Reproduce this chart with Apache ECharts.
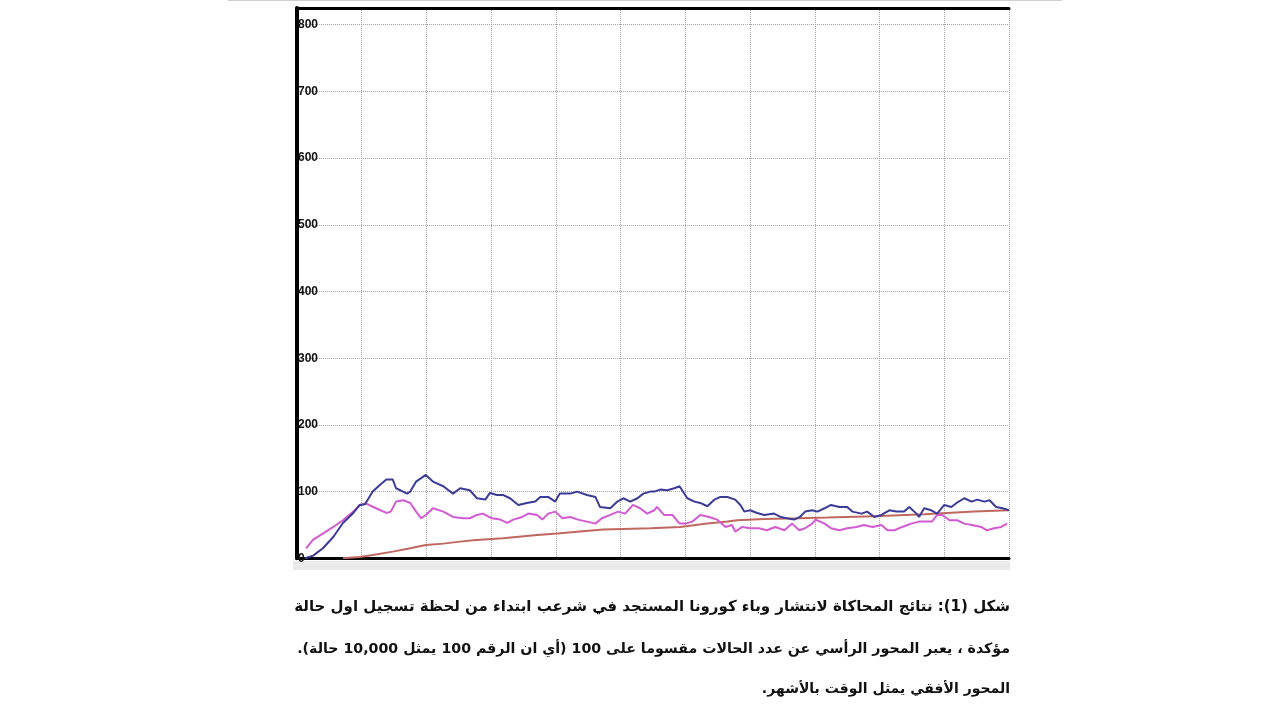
<!DOCTYPE html>
<html>
<head>
<meta charset="utf-8">
<script src="https://cdn.jsdelivr.net/npm/echarts@6/dist/echarts.min.js"></script>
<style>
html,body{margin:0;padding:0;background:#fff;}
#chart{width:1280px;height:719px;}
</style>
</head>
<body>
<div id="chart"></div>
<script>
// Time in months (x) and cases / 100 (y)
const blueMonths = [0.12,0.25,0.40,0.56,0.71,0.87,0.97,1.05,1.17,1.28,1.38,1.48,1.53,1.64,1.70,1.75,1.84,1.99,2.10,2.26,2.41,2.52,2.67,2.78,2.91,2.98,3.09,3.18,3.29,3.42,3.55,3.68,3.76,3.88,3.99,4.06,4.22,4.33,4.48,4.61,4.68,4.84,4.95,5.04,5.15,5.26,5.35,5.46,5.52,5.61,5.72,5.83,5.91,5.95,6.03,6.14,6.23,6.34,6.45,6.54,6.65,6.77,6.85,6.91,7.00,7.11,7.22,7.37,7.47,7.57,7.68,7.77,7.85,7.96,8.04,8.15,8.25,8.38,8.50,8.58,8.72,8.81,8.92,9.03,9.15,9.26,9.38,9.46,9.57,9.61,9.69,9.80,9.89,10.00,10.11,10.19,10.31,10.42,10.51,10.62,10.70,10.80,10.90,11.00];
const blueValues = [0,4,15,32,53,68,80,81,100,110,118,118,105,100,97,100,115,125,115,108,97,105,102,90,88,98,95,95,90,80,83,85,92,92,85,97,97,100,95,92,77,75,85,90,85,90,97,100,100,103,102,105,108,102,90,85,83,78,88,92,92,88,80,70,72,68,65,67,62,60,58,62,70,72,70,75,80,77,77,70,67,70,62,65,72,70,70,77,67,62,75,72,67,80,77,83,90,85,88,85,87,77,75,72];

const magentaMonths = [0.14,0.25,0.40,0.56,0.71,0.87,0.97,1.07,1.22,1.38,1.45,1.53,1.64,1.75,1.84,1.92,1.99,2.10,2.26,2.41,2.57,2.67,2.78,2.87,3.01,3.14,3.25,3.34,3.48,3.57,3.71,3.79,3.88,3.99,4.10,4.22,4.34,4.48,4.61,4.71,4.84,4.96,5.07,5.19,5.30,5.41,5.52,5.56,5.67,5.80,5.91,6.00,6.11,6.23,6.37,6.49,6.62,6.72,6.77,6.88,7.00,7.14,7.26,7.39,7.53,7.65,7.76,7.85,7.96,8.01,8.15,8.25,8.38,8.50,8.64,8.76,8.89,9.03,9.12,9.23,9.35,9.49,9.61,9.72,9.81,9.89,9.97,10.08,10.20,10.31,10.43,10.57,10.66,10.77,10.88,10.97];
const magentaValues = [15,28,37,47,57,70,80,82,75,68,70,85,87,83,70,60,65,75,70,62,60,60,65,67,60,58,53,58,62,67,65,58,67,70,60,62,58,55,52,60,65,70,67,80,75,67,72,77,65,65,52,52,55,65,62,58,47,50,40,47,45,45,42,47,42,52,42,45,52,58,52,45,42,45,47,50,47,50,42,42,47,52,55,55,55,65,65,57,57,52,50,47,42,45,47,52];

const redMonths = [0.71,0.97,1.17,1.48,1.75,1.99,2.26,2.52,2.72,3.18,3.71,4.02,4.37,4.73,5.04,5.46,5.92,6.34,6.65,6.80,7.22,7.73,8.19,8.92,9.69,10.46,11.00];
const redValues = [0,2,5,10,15,20,22,25,27,30,35,37,40,43,44,45,47,52,55,57,59,60,61,63,66,70,72];

const captionLines = [
  'شكل (1): نتائج المحاكاة لانتشار وباء كورونا المستجد في شرعب ابتداء من لحظة تسجيل اول حالة',
  'مؤكدة ، يعبر المحور الرأسي عن عدد الحالات مقسوما على 100 (أي ان الرقم 100 يمثل 10,000 حالة).',
  'المحور الأفقي يمثل الوقت بالأشهر.'
];

const pairs = (xs, ys) => xs.map((x, i) => [x, ys[i]]);
const gridColor = '#a6a6a6';
const captionSizes = [15, 14.2, 14];
const captionTops = [600, 642, 682];

const chart = echarts.init(document.getElementById('chart'), null, {renderer: 'canvas'});
chart.setOption({
  backgroundColor: '#ffffff',
  animation: false,
  grid: {left: 297, right: 271, top: 8, bottom: 160.7, containLabel: false},
  xAxis: [{
    type: 'value', min: 0, max: 11, interval: 1,
    axisLine: {show: true, onZero: false, lineStyle: {color: '#000', width: 3}},
    axisTick: {show: false},
    axisLabel: {show: false},
    splitLine: {show: true, lineStyle: {color: gridColor, type: 'dotted', width: 1}}
  }, {
    type: 'value', position: 'top', min: 0, max: 11, interval: 1,
    axisLine: {show: true, onZero: false, lineStyle: {color: '#000', width: 3}},
    axisTick: {show: false},
    axisLabel: {show: false},
    splitLine: {show: false}
  }],
  yAxis: {
    type: 'value', min: 0, max: 825, interval: 100,
    axisLine: {show: true, onZero: false, lineStyle: {color: '#000', width: 4}},
    axisTick: {show: false},
    axisLabel: {
      inside: true, margin: 1,
      formatter: v => (v % 100 === 0 ? String(v) : ''),
      color: '#111', fontSize: 12, fontWeight: 'bold',
      fontFamily: 'Liberation Sans, Arial, sans-serif'
    },
    splitLine: {show: true, lineStyle: {color: gridColor, type: 'dotted', width: 1}}
  },
  series: [
    {type: 'line', data: pairs(redMonths, redValues), showSymbol: false, z: 2,
     lineStyle: {color: '#c0675f', width: 2}},
    {type: 'line', data: pairs(magentaMonths, magentaValues), showSymbol: false, z: 3,
     lineStyle: {color: '#d35ad3', width: 2}},
    {type: 'line', data: pairs(blueMonths, blueValues), showSymbol: false, z: 4,
     lineStyle: {color: '#3b3b98', width: 2}}
  ],
  title: captionLines.map((t, i) => ({
    text: '\u202B' + t + '\u202C',
    right: 270,
    top: captionTops[i],
    padding: 0,
    textStyle: {fontSize: captionSizes[i], fontWeight: 'bold', color: '#111', fontFamily: 'DejaVu Sans, sans-serif'}
  })),
  graphic: [
    {type: 'line', shape: {x1: 228, y1: 0.5, x2: 1062, y2: 0.5}, style: {stroke: '#cfcfcf', lineWidth: 1}},
    {type: 'rect', shape: {x: 293, y: 561, width: 717, height: 9}, style: {fill: '#eaeaea'}}
  ]
});
</script>
</body>
</html>
